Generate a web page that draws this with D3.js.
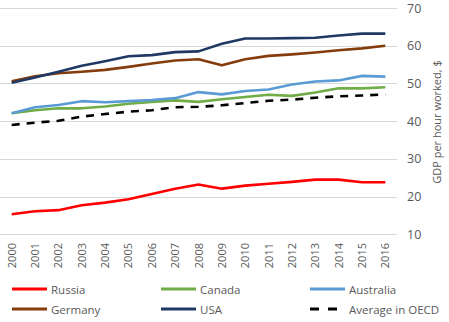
<!DOCTYPE html>
<html>
<head>
<meta charset="utf-8">
<script src="https://cdn.jsdelivr.net/npm/d3@7"></script>
<style>
  body { margin: 0; background: #fff; }
  text { font-family: "Open Sans", "Liberation Sans", sans-serif; fill: #595959; }
</style>
</head>
<body>
<div id="chart"></div>
<script>
// years and series, GDP per hour worked ($)
let years = ["2000","2001","2002","2003","2004","2005","2006","2007","2008","2009","2010","2011","2012","2013","2014","2015","2016"];
let russia    = [15.3,16.1,16.4,17.7,18.4,19.3,20.7,22.1,23.2,22.1,22.9,23.4,23.9,24.5,24.5,23.8,23.8];
let canada    = [42.1,42.9,43.4,43.4,43.9,44.6,45.1,45.5,45.1,45.8,46.4,47.0,46.7,47.6,48.7,48.7,49.0];
let australia = [42.1,43.7,44.3,45.3,45.0,45.3,45.6,46.1,47.7,47.1,48.0,48.4,49.7,50.5,50.8,52.0,51.8];
let germany   = [50.6,51.9,52.7,53.1,53.6,54.4,55.3,56.1,56.4,54.8,56.4,57.3,57.7,58.2,58.8,59.3,60.0];
let usa       = [50.2,51.6,53.1,54.7,55.9,57.2,57.5,58.3,58.5,60.5,61.9,61.9,62.0,62.1,62.7,63.2,63.2];
let oecd      = [39.0,39.6,40.1,41.2,41.9,42.5,42.9,43.7,43.8,44.2,44.8,45.4,45.7,46.2,46.6,46.8,47.1];
let yTicks = [10,20,30,40,50,60,70];

let series = [
    {name: "Russia", values: russia, color: "#ff0000", dash: null},
    {name: "Canada", values: canada, color: "#70ad47", dash: null},
    {name: "Australia", values: australia, color: "#5b9bd5", dash: null},
    {name: "Germany", values: germany, color: "#843c0c", dash: null},
    {name: "USA", values: usa, color: "#1f3864", dash: null},
    {name: "Average in OECD", values: oecd, color: "#000000", dash: "8,7"}
];

var svg = d3.select("#chart").append("svg")
    .attr("width", 449)
    .attr("height", 322);

let x = d3.scalePoint()
    .domain(years)
    .range([0, 397])
    .padding(0.5);

let y = d3.scaleLinear()
    .domain([10, 70])
    .range([234.3, 8]);

// horizontal gridlines
svg.append("g").selectAll("line")
    .data(yTicks)
    .join("line")
    .attr("x1", 0)
    .attr("x2", 397)
    .attr("y1", d => Math.round(y(d)) + 0.5)
    .attr("y2", d => Math.round(y(d)) + 0.5)
    .attr("stroke", "#d9d9d9")
    .attr("stroke-width", 1);

// right-hand value labels
let yAxis = svg.append("g")
    .attr("transform", "translate(407,0)")
    .call(d3.axisRight(y).tickValues(yTicks).tickSize(0).tickPadding(0));
yAxis.select(".domain").remove();
yAxis.selectAll("text")
    .style("font-size", "12.5px")
    .attr("fill", "#595959");

// axis title
svg.append("text")
    .attr("transform", "translate(441,122) rotate(-90)")
    .attr("text-anchor", "middle")
    .style("font-size", "11px")
    .text("GDP per hour worked, $");

// year labels, rotated
svg.append("g").selectAll("text")
    .data(years)
    .join("text")
    .attr("transform", d => "translate(" + (x(d) + 4) + ",243) rotate(-90)")
    .attr("text-anchor", "end")
    .style("font-size", "11px")
    .text(d => d);

let line = d3.line()
    .x((d, i) => x(years[i]))
    .y(d => y(d));

series.forEach(s => {
    svg.append("path")
        .datum(s.values)
        .attr("d", line)
        .attr("fill", "none")
        .attr("stroke", s.color)
        .attr("stroke-width", 2.6)
        .attr("stroke-linejoin", "round")
        .attr("stroke-dasharray", s.dash);
});

// legend, two rows of three
let legendX = [12, 161, 310];
let legendY = [289, 309];
series.forEach((s, i) => {
    let lx = legendX[i % 3];
    let ly = legendY[Math.floor(i / 3)];
    svg.append("line")
        .attr("x1", lx)
        .attr("x2", lx + 35)
        .attr("y1", ly)
        .attr("y2", ly)
        .attr("stroke", s.color)
        .attr("stroke-width", 3)
        .attr("stroke-dasharray", s.dash ? "9,9" : null);
    svg.append("text")
        .attr("x", lx + 39)
        .attr("y", ly + 4.5)
        .style("font-size", "11.5px")
        .text(s.name);
});
</script>
</body>
</html>
